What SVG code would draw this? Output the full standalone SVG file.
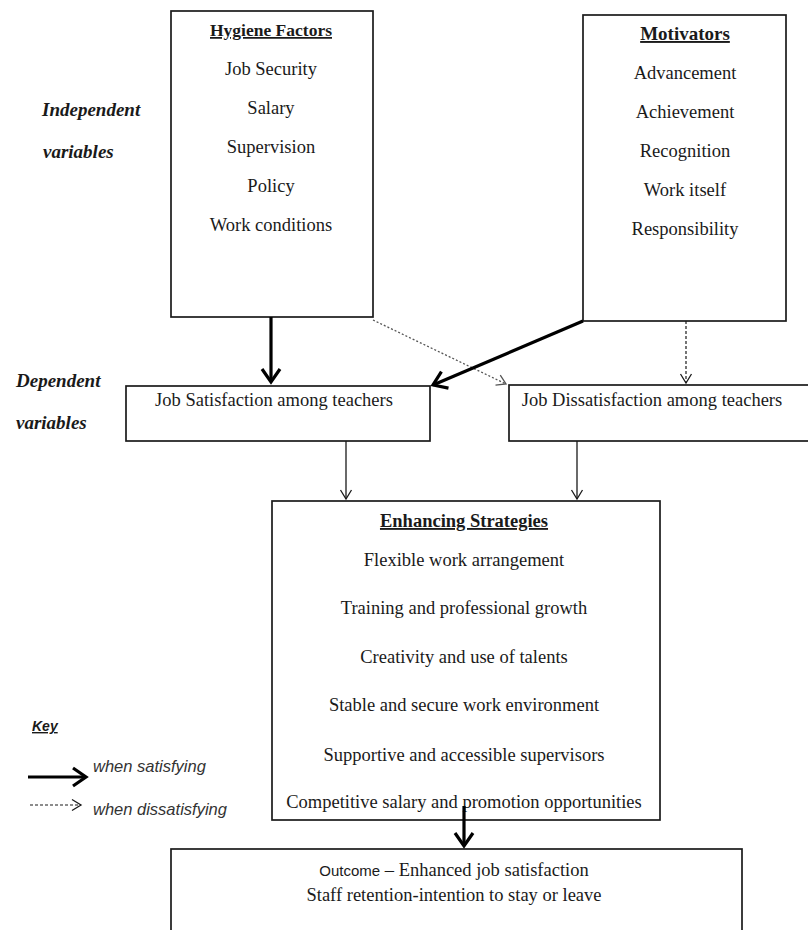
<svg xmlns="http://www.w3.org/2000/svg" width="808" height="930" viewBox="0 0 808 930">
<style>
.box{fill:#fff;stroke:#1a1a1a;stroke-width:1.7}
.t{font-family:"Liberation Serif","Times New Roman",serif;font-size:18.5px;fill:#1a1a1a;text-anchor:middle}
.h{font-weight:bold;text-decoration:underline}
.lbl{font-family:"Liberation Serif","Times New Roman",serif;font-size:19px;font-style:italic;font-weight:bold;fill:#1a1a1a}
.key{font-family:"Liberation Sans",Arial,sans-serif;font-size:16.5px;font-style:italic;fill:#333}
.thick{stroke:#000;stroke-width:3.2;fill:none}
.thin{stroke:#1a1a1a;stroke-width:1.3;fill:none}
.dash{stroke:#1a1a1a;stroke-width:1.2;fill:none;stroke-dasharray:3 2}
.dot{stroke:#555;stroke-width:1.3;fill:none;stroke-dasharray:2 2}
</style>
<defs>
<marker id="hThick" markerUnits="userSpaceOnUse" orient="auto" overflow="visible" refX="0" refY="0" markerWidth="20" markerHeight="20">
<path d="M-13,-9 L0,0 L-13,9" fill="none" stroke="#000" stroke-width="3.2"/>
</marker>
<marker id="hThin" markerUnits="userSpaceOnUse" orient="auto" overflow="visible" refX="0" refY="0" markerWidth="12" markerHeight="12">
<path d="M-9,-5.5 L0,0 L-9,5.5" fill="none" stroke="#1a1a1a" stroke-width="1.3"/>
</marker>
<marker id="hGrey" markerUnits="userSpaceOnUse" orient="auto" overflow="visible" refX="0" refY="0" markerWidth="12" markerHeight="12">
<path d="M-9,-5.5 L0,0 L-9,5.5" fill="none" stroke="#555" stroke-width="1.3"/>
</marker>
</defs>

<g id="labels">
<text class="lbl" x="42" y="116">Independent</text>
<text class="lbl" x="43" y="158">variables</text>
<text class="lbl" x="16" y="387">Dependent</text>
<text class="lbl" x="16" y="429">variables</text>
</g>

<g id="hygiene">
<rect class="box" x="171" y="11" width="202" height="306"/>
<text class="t h" x="271" y="36" style="font-size:17.5px">Hygiene Factors</text>
<text class="t" x="271" y="75">Job Security</text>
<text class="t" x="271" y="114">Salary</text>
<text class="t" x="271" y="153">Supervision</text>
<text class="t" x="271" y="192">Policy</text>
<text class="t" x="271" y="231">Work conditions</text>
</g>

<g id="motivators">
<rect class="box" x="583" y="15" width="203" height="306"/>
<text class="t h" x="685" y="40" style="font-size:19px">Motivators</text>
<text class="t" x="685" y="79">Advancement</text>
<text class="t" x="685" y="118">Achievement</text>
<text class="t" x="685" y="157">Recognition</text>
<text class="t" x="685" y="196">Work itself</text>
<text class="t" x="685" y="235">Responsibility</text>
</g>

<g id="satisfaction">
<rect class="box" x="126" y="386" width="304" height="55"/>
<text class="t" x="274" y="406">Job Satisfaction among teachers</text>
</g>

<g id="dissatisfaction">
<rect class="box" x="509" y="385" width="302" height="56"/>
<text class="t" x="652" y="406">Job Dissatisfaction among teachers</text>
</g>

<g id="strategies">
<rect class="box" x="272" y="501" width="388" height="319"/>
<text class="t h" x="464" y="527">Enhancing Strategies</text>
<text class="t" x="464" y="566">Flexible work arrangement</text>
<text class="t" x="464" y="614">Training and professional growth</text>
<text class="t" x="464" y="663">Creativity and use of talents</text>
<text class="t" x="464" y="711">Stable and secure work environment</text>
<text class="t" x="464" y="761">Supportive and accessible supervisors</text>
<text class="t" x="464" y="808">Competitive salary and promotion opportunities</text>
</g>

<g id="outcome">
<rect class="box" x="171" y="849" width="571" height="100"/>
<text class="t" x="454" y="876"><tspan style="font-family:'Liberation Sans',Arial,sans-serif;font-size:15px">Outcome</tspan> – Enhanced job satisfaction</text>
<text class="t" x="454" y="901">Staff retention-intention to stay or leave</text>
</g>

<g id="key">
<text x="32" y="731" style="font-family:'Liberation Sans',Arial,sans-serif;font-size:14px;font-style:italic;font-weight:bold;text-decoration:underline;fill:#1a1a1a">Key</text>
<line class="thick" x1="28" y1="777" x2="86" y2="777" marker-end="url(#hThick)"/>
<text class="key" x="93" y="772">when satisfying</text>
<line class="dash" x1="30" y1="805" x2="81" y2="805" marker-end="url(#hThin)"/>
<text class="key" x="93" y="815">when dissatisfying</text>
</g>

<g id="connectors">
<line class="thick" x1="271" y1="317" x2="271" y2="382" marker-end="url(#hThick)"/>
<line class="dot" x1="373" y1="320" x2="506" y2="384" marker-end="url(#hGrey)"/>
<line class="thick" x1="583" y1="321" x2="433" y2="385" marker-end="url(#hThick)"/>
<line class="dash" x1="686" y1="321" x2="686" y2="383" marker-end="url(#hThin)"/>
<line class="thin" x1="346" y1="441" x2="346" y2="499" marker-end="url(#hThin)"/>
<line class="thin" x1="577" y1="441" x2="577" y2="499" marker-end="url(#hThin)"/>
<line class="thick" x1="464" y1="806" x2="464" y2="846" marker-end="url(#hThick)"/>
</g>
</svg>
